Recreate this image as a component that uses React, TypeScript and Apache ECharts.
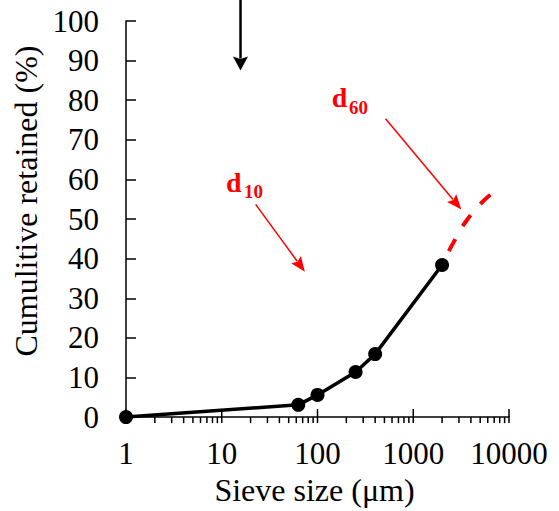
import React, { useEffect, useRef } from "react";
import * as echarts from "echarts";

// Measured sieve data (size in µm, cumulative retained in %)
const sieveSizes = [1, 63, 100, 250, 400, 2000];
const cumulativeRetained = [0, 3.1, 5.6, 11.4, 15.9, 38.4];

// Extrapolated (dashed red) part of the curve
const extrapSizes = [2000, 2590, 3625, 5590, 8410];
const extrapRetained = [38.4, 43.8, 49.7, 54.9, 58.2];

// X axis ticks (log scale)
const xMajorTicks = [1, 10, 100, 1000, 10000];
const xMinorTicks = [
  2, 3, 4, 5, 6, 7, 8, 9,
  20, 30, 40, 50, 60, 70, 80, 90,
  200, 300, 400, 500, 600, 700, 800, 900,
  2000, 3000, 4000, 5000, 6000, 7000, 8000, 9000,
];

// Annotation arrows in data coordinates: [startSize, startRetained, tipSize, tipRetained]
const d10Arrow = [22.6, 53.7, 73.8, 36.7];
const d60Arrow = [514, 75.3, 3177, 52.4];
const topArrow = [15.7, 105.5, 15.7, 87.5];

const FONT = "Liberation Serif, Times New Roman, serif";

export default function App() {
  const ref = useRef<HTMLDivElement>(null);

  useEffect(() => {
    if (!ref.current) return;
    const chart = echarts.init(ref.current, null, { renderer: "svg" });

    const tickData = [
      ...xMajorTicks.map((v) => [v, 1]),
      ...xMinorTicks.map((v) => [v, 0]),
    ];

    const arrowData = [
      { value: d10Arrow, color: "#ff0000", lw: 1.5, hl: 15, hw: 12 },
      { value: d60Arrow, color: "#ff0000", lw: 1.5, hl: 15, hw: 12 },
      { value: topArrow, color: "#000000", lw: 2.5, hl: 14, hw: 15 },
    ];

    const option: any = {
      animation: false,
      backgroundColor: "#fff",
      textStyle: { fontFamily: FONT },
      grid: { left: 126, right: 50, top: 21, bottom: 92, containLabel: false },
      xAxis: {
        type: "log",
        logBase: 10,
        min: 1,
        max: 10000,
        name: "Sieve size (μm)",
        nameLocation: "middle",
        nameGap: 56,
        nameTextStyle: {
          fontFamily: FONT,
          fontSize: 32,
          color: "#000",
          padding: [0, 6, 0, 0],
        },
        axisLine: { show: true, onZero: false, lineStyle: { color: "#000", width: 1.5 } },
        axisTick: { show: false },
        minorTick: { show: false },
        splitLine: { show: false },
        axisLabel: {
          fontFamily: FONT,
          fontSize: 31,
          color: "#000",
          margin: 21,
          formatter: (v: number) => String(v),
        },
      },
      yAxis: {
        type: "value",
        min: 0,
        max: 100,
        interval: 10,
        name: "Cumulitive retained (%)",
        nameLocation: "middle",
        nameGap: 84,
        nameTextStyle: {
          fontFamily: FONT,
          fontSize: 32,
          color: "#000",
          padding: [0, 0, 0, 36],
        },
        axisLine: { show: true, lineStyle: { color: "#000", width: 1.5 } },
        axisTick: { show: true, inside: true, length: 10, lineStyle: { color: "#000", width: 1.5 } },
        splitLine: { show: false },
        axisLabel: {
          fontFamily: FONT,
          fontSize: 31,
          color: "#000",
          margin: 27,
        },
      },
      series: [
        {
          type: "custom",
          silent: true,
          clip: false,
          data: tickData,
          renderItem: (params: any, api: any) => {
            const v = api.value(0);
            const major = api.value(1) === 1;
            const p = api.coord([v, 0]);
            return {
              type: "line",
              shape: { x1: p[0], y1: p[1] - (major ? 8 : 0), x2: p[0], y2: p[1] + 6 },
              style: { stroke: "#000", lineWidth: 1.5 },
            };
          },
          z: 1,
        },
        {
          type: "line",
          data: extrapSizes.map((s, i) => [s, extrapRetained[i]]),
          smooth: 0.5,
          symbol: "none",
          silent: true,
          lineStyle: { color: "#ff0000", width: 4, type: [13.5, 15], dashOffset: 12.5 },
          z: 2,
        },
        {
          type: "line",
          data: sieveSizes.map((s, i) => [s, cumulativeRetained[i]]),
          symbol: "circle",
          symbolSize: 14,
          showSymbol: true,
          silent: true,
          clip: false,
          itemStyle: { color: "#000" },
          lineStyle: { color: "#000", width: 3.5 },
          z: 3,
        },
        {
          type: "custom",
          silent: true,
          clip: false,
          data: arrowData,
          encode: { x: [0, 2], y: [1, 3] },
          renderItem: (params: any, api: any) => {
            const item = arrowData[params.dataIndex];
            const a = api.coord([api.value(0), api.value(1)]);
            const b = api.coord([api.value(2), api.value(3)]);
            const dx = b[0] - a[0];
            const dy = b[1] - a[1];
            const len = Math.sqrt(dx * dx + dy * dy);
            const ux = dx / len;
            const uy = dy / len;
            const bx = b[0] - ux * item.hl;
            const by = b[1] - uy * item.hl;
            const px = -uy;
            const py = ux;
            return {
              type: "group",
              children: [
                {
                  type: "line",
                  shape: { x1: a[0], y1: a[1], x2: bx + ux * 2, y2: by + uy * 2 },
                  style: { stroke: item.color, lineWidth: item.lw },
                },
                {
                  type: "polygon",
                  shape: {
                    points: [
                      [b[0], b[1]],
                      [bx + px * item.hw / 2, by + py * item.hw / 2],
                      [bx + ux * 2.5, by + uy * 2.5],
                      [bx - px * item.hw / 2, by - py * item.hw / 2],
                    ],
                  },
                  style: { fill: item.color },
                },
              ],
            };
          },
          z: 4,
        },
      ],
      graphic: [
        { type: "text", x: 226, y: 182.5, style: { text: "d", font: `bold 28px ${FONT}`, fill: "#ff0000", verticalAlign: "middle" } },
        { type: "text", x: 244, y: 191.6, style: { text: "10", font: `bold 19px ${FONT}`, fill: "#ff0000", verticalAlign: "middle" } },
        { type: "text", x: 331.7, y: 97.3, style: { text: "d", font: `bold 28px ${FONT}`, fill: "#ff0000", verticalAlign: "middle" } },
        { type: "text", x: 349, y: 107.6, style: { text: "60", font: `bold 19px ${FONT}`, fill: "#ff0000", verticalAlign: "middle" } },
      ],
    };

    chart.setOption(option);
    return () => chart.dispose();
  }, []);

  return <div ref={ref} style={{ width: 559, height: 511, position: "absolute", left: 0, top: 0 }} />;
}
